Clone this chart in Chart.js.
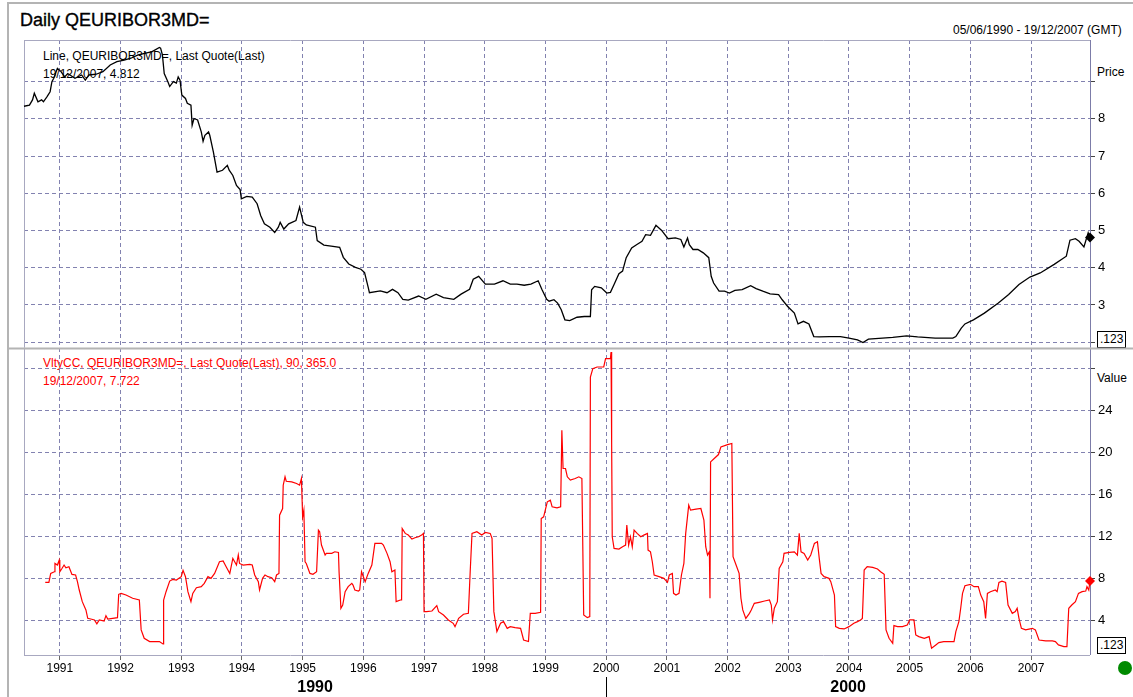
<!DOCTYPE html>
<html>
<head>
<meta charset="utf-8">
<script src="https://cdn.jsdelivr.net/npm/chart.js@4.4.0/dist/chart.umd.min.js"></script>
<style>
  html, body { margin: 0; padding: 0; background: #fff; }
  body { width: 1133px; height: 697px; position: relative; overflow: hidden; font-family: "Liberation Sans", Arial, sans-serif; }
  .txt { position: absolute; white-space: nowrap; font-size: 12px; color: #000; line-height: 1; }
  #frame { position: absolute; left: 7px; top: 2px; width: 1140px; height: 710px; border-left: 2px solid #b4b4b4; border-top: 2px solid #b4b4b4; }
  #title { left: 20px; top: 11px; font-size: 18px; -webkit-text-stroke: 0.35px #000; }
  #range { left: 953px; top: 24px; }
  .leg1 { left: 43px; }
  .red { color: #ff0000; }
  .box { position: absolute; border: 1px solid #000; font-size: 12px; line-height: 15px; padding: 0 2px; background: #fff; }
  #dot { position: absolute; left: 1118px; top: 661px; width: 14px; height: 14px; border-radius: 50%; background: #008a00; }
  canvas { position: absolute; left: 0; top: 0; }
</style>
</head>
<body>
<div id="frame"></div>
<div class="txt" id="title">Daily QEURIBOR3MD=</div>
<div class="txt" id="range">05/06/1990 - 19/12/2007 (GMT)</div>
<div class="txt leg1" style="top:50px">Line, QEURIBOR3MD=, Last Quote(Last)</div>
<div class="txt leg1" style="top:68px">19/12/2007, 4.812</div>
<div class="txt leg1 red" style="top:357px">VltyCC, QEURIBOR3MD=, Last Quote(Last), 90, 365.0</div>
<div class="txt leg1 red" style="top:375px">19/12/2007, 7.722</div>
<div class="txt" style="left:1097px; top:66px">Price</div>
<div class="txt" style="left:1097px; top:372px">Value</div>
<div class="box" style="left:1097px; top:331px">.123</div>
<div class="box" style="left:1097px; top:637px">.123</div>
<div id="dot"></div>
<canvas id="chart" width="1133" height="697"></canvas>
<script>
// price: 3M rate (decimal years)
const priceYears = [1990.41,1990.50,1990.55,1990.58,1990.64,1990.70,1990.73,1990.79,1990.84,1990.87,1990.90,1990.96,
  1991.02,1991.08,1991.13,1991.25,1991.36,1991.42,1991.48,1991.60,1991.71,1991.83,1991.94,
  1992.06,1992.17,1992.29,1992.40,1992.52,1992.64,1992.66,1992.69,1992.72,1992.78,1992.81,1992.87,1992.92,1992.95,1992.98,
  1993.01,1993.07,1993.10,1993.16,1993.18,1993.21,1993.27,1993.33,1993.36,1993.39,1993.45,1993.47,1993.53,1993.59,1993.68,1993.76,1993.79,1993.85,1993.91,1993.97,1993.99,
  1994.08,1994.17,1994.25,1994.31,1994.37,1994.46,1994.54,1994.60,1994.63,1994.69,1994.77,1994.89,1994.95,
  1995.01,1995.06,1995.21,1995.24,1995.35,1995.47,1995.61,1995.67,1995.76,1995.87,1995.96,
  1996.02,1996.08,1996.10,1996.28,1996.39,1996.48,1996.57,1996.65,1996.74,1996.91,
  1997.03,1997.20,1997.32,1997.49,1997.61,1997.75,1997.81,1997.90,
  1998.01,1998.16,1998.30,1998.42,1998.53,1998.65,1998.76,1998.88,1998.94,
  1999.02,1999.06,1999.14,1999.20,1999.26,1999.32,1999.40,1999.52,1999.64,1999.74,1999.76,1999.81,1999.92,
  2000.01,2000.07,2000.13,2000.21,2000.27,2000.33,2000.42,2000.50,2000.59,2000.65,2000.73,2000.82,2000.91,
  2001.02,2001.14,2001.23,2001.28,2001.34,2001.37,2001.43,2001.51,2001.60,2001.69,2001.73,2001.77,2001.86,2001.95,
  2002.03,2002.12,2002.24,2002.38,2002.47,2002.58,2002.70,2002.84,2002.90,2002.99,
  2003.10,2003.16,2003.25,2003.34,2003.42,2003.51,2003.68,2003.86,
  2004.00,2004.14,2004.23,2004.32,2004.55,2004.72,2004.95,
  2005.13,2005.42,2005.71,2005.76,2005.85,2005.91,
  2006.05,2006.23,2006.46,2006.63,2006.80,2006.98,
  2007.15,2007.38,2007.58,2007.64,2007.73,2007.79,2007.87,2007.94,2007.97];
const priceValues = [8.34,8.37,8.51,8.69,8.46,8.51,8.46,8.60,8.73,9.00,9.09,9.36,
  9.27,9.13,9.22,9.09,9.18,9.04,9.18,9.20,9.27,9.45,9.54,
  9.58,9.63,9.72,9.76,9.81,9.92,9.90,9.72,9.22,9.00,8.87,9.00,8.96,9.13,9.04,
  8.64,8.55,8.42,8.37,7.83,8.01,7.97,7.65,7.40,7.56,7.65,7.56,7.11,6.57,6.62,6.75,6.62,6.48,6.21,6.10,5.85,
  5.92,5.90,5.72,5.40,5.18,5.09,4.95,5.09,5.22,5.04,5.18,5.27,5.63,
  5.22,5.15,5.09,4.73,4.61,4.58,4.55,4.28,4.10,4.01,3.96,
  3.87,3.47,3.33,3.38,3.33,3.42,3.33,3.15,3.13,3.24,
  3.15,3.29,3.20,3.15,3.29,3.42,3.69,3.77,
  3.56,3.56,3.65,3.56,3.56,3.53,3.56,3.65,3.42,
  3.15,3.10,3.14,3.05,2.87,2.60,2.58,2.67,2.69,2.69,3.41,3.50,3.46,
  3.32,3.34,3.55,3.84,3.91,4.27,4.53,4.62,4.71,4.89,4.87,5.14,5.01,
  4.78,4.80,4.76,4.56,4.80,4.62,4.49,4.49,4.40,4.27,3.77,3.59,3.37,3.37,
  3.32,3.39,3.41,3.52,3.44,3.37,3.30,3.28,3.14,2.96,
  2.78,2.49,2.56,2.49,2.15,2.14,2.15,2.15,
  2.11,2.06,1.99,2.08,2.11,2.13,2.17,
  2.14,2.11,2.11,2.15,2.38,2.49,
  2.60,2.78,3.05,3.28,3.55,3.75,
  3.86,4.09,4.31,4.74,4.78,4.71,4.56,4.94,4.81];

// VltyCC 90-day volatility
const vltyYears = [1990.76,1990.82,1990.85,1990.91,1990.92,1990.96,1990.99,
  1991.00,1991.03,1991.07,1991.10,1991.15,1991.20,1991.26,1991.29,1991.32,1991.37,1991.43,1991.46,1991.51,1991.57,1991.61,1991.65,1991.73,1991.76,1991.79,1991.87,1991.95,1991.97,
  1992.01,1992.09,1992.20,1992.31,1992.34,1992.39,1992.48,1992.64,1992.70,1992.71,1992.75,1992.81,1992.86,1992.92,
  1993.00,1993.03,1993.07,1993.11,1993.16,1993.19,1993.25,1993.33,1993.38,1993.44,1993.49,1993.55,1993.63,1993.69,1993.74,1993.80,1993.85,1993.88,1993.91,1993.94,1993.96,
  1994.02,1994.13,1994.17,1994.21,1994.27,1994.29,1994.34,1994.38,1994.43,1994.49,1994.54,1994.57,1994.61,1994.62,1994.67,1994.68,1994.71,1994.73,1994.82,1994.90,1994.95,1994.98,
  1995.00,1995.02,1995.04,1995.06,1995.12,1995.17,1995.23,1995.26,1995.28,1995.31,1995.37,1995.39,1995.48,1995.53,1995.59,1995.60,1995.63,1995.66,1995.70,1995.75,1995.81,1995.83,1995.86,1995.92,1995.94,1995.97,
  1996.00,1996.03,1996.08,1996.14,1996.19,1996.30,1996.33,1996.39,1996.44,1996.47,1996.52,1996.54,1996.61,1996.63,1996.64,1996.69,1996.74,1996.80,1996.85,1996.91,1996.96,1996.99,
  1997.00,1997.04,1997.13,1997.21,1997.24,1997.32,1997.40,1997.48,1997.51,1997.57,1997.65,1997.73,1997.76,1997.79,1997.87,1997.95,
  1998.01,1998.09,1998.12,1998.15,1998.20,1998.26,1998.31,1998.37,1998.42,1998.50,1998.59,1998.64,1998.72,1998.75,1998.83,1998.92,1998.93,1998.97,
  1999.03,1999.08,1999.11,1999.19,1999.25,1999.27,1999.29,1999.33,1999.36,1999.41,1999.49,1999.55,1999.60,1999.63,1999.69,1999.73,1999.74,1999.78,1999.85,1999.96,1999.99,
  2000.07,2000.08,2000.09,2000.10,2000.13,2000.21,2000.27,2000.32,2000.34,2000.37,2000.40,2000.43,2000.46,2000.51,2000.57,2000.62,2000.68,2000.69,2000.73,2000.76,2000.79,2000.87,2000.95,
  2001.01,2001.04,2001.09,2001.11,2001.15,2001.20,2001.24,2001.28,2001.31,2001.36,2001.39,2001.48,2001.56,2001.61,2001.64,2001.67,2001.70,2001.71,2001.72,2001.78,2001.85,2001.89,
  2002.00,2002.07,2002.09,2002.14,2002.19,2002.22,2002.25,2002.30,2002.36,2002.39,2002.44,2002.52,2002.61,2002.69,2002.72,2002.74,2002.77,2002.82,2002.85,2002.91,2002.93,
  2003.02,2003.10,2003.15,2003.18,2003.21,2003.26,2003.32,2003.37,2003.43,2003.48,2003.51,2003.54,2003.59,2003.67,2003.70,2003.76,2003.78,2003.84,2003.92,
  2004.00,2004.08,2004.14,2004.19,2004.22,2004.25,2004.30,2004.39,2004.47,2004.52,2004.58,2004.61,2004.66,2004.72,2004.74,2004.80,2004.88,2004.96,
  2005.00,2005.07,2005.10,2005.15,2005.24,2005.32,2005.36,2005.43,2005.48,2005.56,2005.73,2005.76,2005.81,2005.84,2005.87,2005.91,
  2006.00,2006.06,2006.13,2006.17,2006.22,2006.25,2006.28,2006.33,2006.41,2006.44,2006.47,2006.52,2006.58,2006.62,2006.69,2006.74,2006.77,2006.80,2006.84,2006.91,
  2007.02,2007.07,2007.13,2007.24,2007.35,2007.40,2007.45,2007.54,2007.59,2007.62,2007.67,2007.73,2007.78,2007.84,2007.90,2007.92,2007.95,2007.97];
const vltyValues = [7.59,7.59,8.44,8.60,9.39,9.24,9.71,
  8.60,8.86,9.24,8.98,9.08,8.35,8.29,7.65,6.86,5.75,4.96,4.16,4.10,4.01,3.63,4.01,3.91,4.42,4.10,4.16,4.23,6.45,
  6.54,6.38,6.07,5.91,3.06,2.26,1.95,1.95,1.72,5.91,6.70,7.71,7.87,7.81,
  8.13,8.73,8.13,6.70,5.75,6.54,7.08,7.18,7.49,8.13,7.97,8.44,9.55,9.62,9.08,8.44,9.87,9.55,9.24,10.19,9.39,
  9.24,9.30,9.24,8.29,7.65,6.86,7.97,8.29,8.13,8.03,7.65,8.29,8.44,13.99,14.62,16.84,17.64,17.22,17.16,17.00,16.84,17.48,
  13.83,14.47,9.55,9.39,8.44,8.35,8.60,12.56,12.41,11.14,10.19,10.35,10.35,10.50,10.44,8.60,5.12,5.43,6.70,7.18,7.49,7.33,6.86,6.76,6.86,8.60,
  8.13,7.65,8.44,9.24,11.30,11.30,11.14,10.35,9.55,8.60,8.76,5.75,5.91,5.91,12.72,12.25,12.09,11.71,11.84,11.93,12.09,12.25,
  4.80,4.80,4.86,5.37,4.80,4.48,4.01,3.69,3.37,4.16,4.55,4.64,8.60,12.25,12.41,12.09,
  12.34,12.25,11.77,4.80,2.90,3.69,3.85,3.21,3.37,3.28,3.21,2.10,1.95,4.64,4.64,4.74,13.67,13.83,
  15.26,15.42,14.78,14.69,14.78,22.07,18.43,18.43,17.64,17.32,17.48,17.64,17.48,4.48,4.23,4.32,27.14,27.94,28.10,28.10,28.89,
  28.89,29.52,20.96,11.93,10.82,10.76,10.98,11.14,13.04,11.14,11.93,10.98,12.56,12.25,11.93,12.09,12.25,10.66,10.50,9.55,8.29,8.13,7.97,
  7.59,8.29,8.44,6.54,6.38,6.54,8.29,9.39,12.25,14.94,14.47,14.56,14.62,13.52,10.98,10.19,10.50,6.07,19.06,19.38,19.76,20.49,
  20.71,20.81,10.03,9.24,8.44,6.07,4.96,4.16,4.64,4.96,5.59,5.69,5.81,5.91,5.43,4.01,5.12,5.75,8.92,9.55,10.35,
  10.44,10.50,10.19,12.25,10.50,10.35,9.71,10.19,11.30,11.45,9.87,8.44,8.13,7.97,7.65,6.38,3.37,3.21,3.15,
  3.37,3.69,3.85,4.01,4.16,8.76,9.08,9.01,8.86,8.60,8.35,3.06,2.26,1.79,3.47,3.37,3.37,3.53,
  4.01,4.01,2.58,2.42,2.26,2.42,1.31,1.63,1.85,1.95,1.95,2.90,3.85,5.12,6.54,7.27,
  7.40,7.18,7.18,6.38,5.75,4.16,6.54,6.70,6.86,6.70,7.59,7.71,7.59,5.43,4.64,4.80,5.12,4.16,3.21,3.06,
  3.21,3.06,2.10,2.01,2.01,1.95,1.63,1.47,1.47,5.12,5.43,5.75,6.54,6.70,6.76,7.18,6.86,7.72];

const yearTicks = [1991,1992,1993,1994,1995,1996,1997,1998,1999,2000,2001,2002,2003,2004,2005,2006,2007];
const decadeLabels = ['1990', '2000'];
const decadeStarts = [1990.41, 2000];
const priceTicks = [2,3,4,5,6,7,8,9];
const valueTicks = [4,8,12,16,20,24,28];

const xMin = 1990.41, xMax = 2007.97;
const gridColor = '#8282b0';
const axisColor = '#7c7ca8';
const font = { family: '"Liberation Sans", Arial, sans-serif', size: 12 };

function lastMarker(n) {
    return c => c.dataIndex === n - 1 ? 5 : 0;
}

// frame, panel separator, right axis line and decade labels (under the lines)
const decor = {
    id: 'decor',
    beforeDatasetsDraw(chart) {
        const c = chart.ctx;
        const a = chart.chartArea;
        const x = chart.scales.x;
        const yP = chart.scales.yPrice;
        c.save();
        c.setLineDash([]);
        c.strokeStyle = '#a8a8c0';
        c.lineWidth = 1;
        c.beginPath();
        c.moveTo(a.left, a.top + 0.5); c.lineTo(a.right, a.top + 0.5);
        c.moveTo(a.left + 0.5, a.top); c.lineTo(a.left + 0.5, a.bottom);
        c.moveTo(a.left, a.bottom + 0.5); c.lineTo(a.right, a.bottom + 0.5);
        c.stroke();
        c.strokeStyle = axisColor;
        c.beginPath();
        c.moveTo(Math.round(a.right) + 0.5, a.top); c.lineTo(Math.round(a.right) + 0.5, a.bottom);
        c.stroke();
        c.strokeStyle = '#b4b4b4';
        c.lineWidth = 2;
        c.beginPath();
        c.moveTo(8, yP.bottom); c.lineTo(chart.width, yP.bottom);
        c.stroke();

        c.fillStyle = '#000';
        c.font = 'bold 16px "Liberation Sans Narrow", "Liberation Sans", Arial, sans-serif';
        c.textAlign = 'center';
        c.textBaseline = 'middle';
        decadeLabels.forEach((lab, i) => {
            const s = x.getPixelForValue(Math.max(decadeStarts[i], xMin));
            const e = x.getPixelForValue(i + 1 < decadeStarts.length ? decadeStarts[i + 1] : xMax);
            c.fillText(lab, (s + e) / 2, 688);
        });
        c.strokeStyle = '#000';
        c.lineWidth = 1;
        c.beginPath();
        const px = Math.round(x.getPixelForValue(decadeStarts[1])) + 0.5;
        c.moveTo(px, 677); c.lineTo(px, 697);
        c.stroke();
        c.restore();
    }
};

const chart = new Chart(document.getElementById('chart'), {
    type: 'line',
    data: {
        datasets: [{
            label: 'Line, QEURIBOR3MD=, Last Quote(Last)',
            data: priceYears.map((yr, i) => ({ x: yr, y: priceValues[i] })),
            yAxisID: 'yPrice',
            borderColor: '#000',
            backgroundColor: '#000',
            borderWidth: 1.3,
            pointRadius: lastMarker(priceYears.length),
            pointStyle: 'rectRot',
            pointBorderWidth: 0,
            tension: 0,
            clip: false
        }, {
            label: 'VltyCC, QEURIBOR3MD=, Last Quote(Last), 90, 365.0',
            data: vltyYears.map((yr, i) => ({ x: yr, y: vltyValues[i] })),
            yAxisID: 'yValue',
            borderColor: '#ff0000',
            backgroundColor: '#ff0000',
            borderWidth: 1.2,
            pointRadius: lastMarker(vltyYears.length),
            pointStyle: 'rectRot',
            pointBorderWidth: 0,
            tension: 0,
            clip: false
        }]
    },
    options: {
        responsive: false,
        animation: false,
        events: [],
        layout: { padding: { left: 24, top: 40, right: 0, bottom: 0 } },
        plugins: { legend: { display: false }, tooltip: { enabled: false } },
        scales: {
            x: {
                type: 'linear',
                min: xMin,
                max: xMax,
                afterBuildTicks: s => { s.ticks = yearTicks.map(v => ({ value: v })); },
                afterFit: s => { s.height = 42; },
                ticks: { autoSkip: false, maxRotation: 0, padding: 1, color: '#000', font: font, callback: v => String(v) },
                grid: { color: gridColor, tickBorderDash: [], tickColor: '#666', tickLength: 5 },
                border: { display: false, dash: [4, 3] }
            },
            yPrice: {
                type: 'linear',
                position: 'right',
                stack: 'panels',
                stackWeight: 308.5,
                min: 1.83,
                max: 10.12,
                afterBuildTicks: s => { s.ticks = priceTicks.map(v => ({ value: v })); },
                afterFit: s => { s.width = 43; },
                ticks: { padding: 3, color: '#000', font: { family: font.family, size: 13 }, callback: v => (v === 2 || v === 9) ? '' : String(v) },
                grid: { color: gridColor, tickBorderDash: [], tickColor: '#444', tickLength: 5 },
                border: { display: false, dash: [4, 3] }
            },
            yValue: {
                type: 'linear',
                position: 'right',
                stack: 'panels',
                stackWeight: 306.5,
                min: 0.67,
                max: 29.86,
                afterBuildTicks: s => { s.ticks = valueTicks.map(v => ({ value: v })); },
                afterFit: s => { s.width = 43; },
                ticks: { padding: 3, color: '#000', font: { family: font.family, size: 13 }, callback: v => v === 28 ? '' : String(v) },
                grid: { color: gridColor, tickBorderDash: [], tickColor: '#444', tickLength: 5 },
                border: { display: false, dash: [4, 3] }
            }
        }
    },
    plugins: [decor]
});
</script>
</body>
</html>
